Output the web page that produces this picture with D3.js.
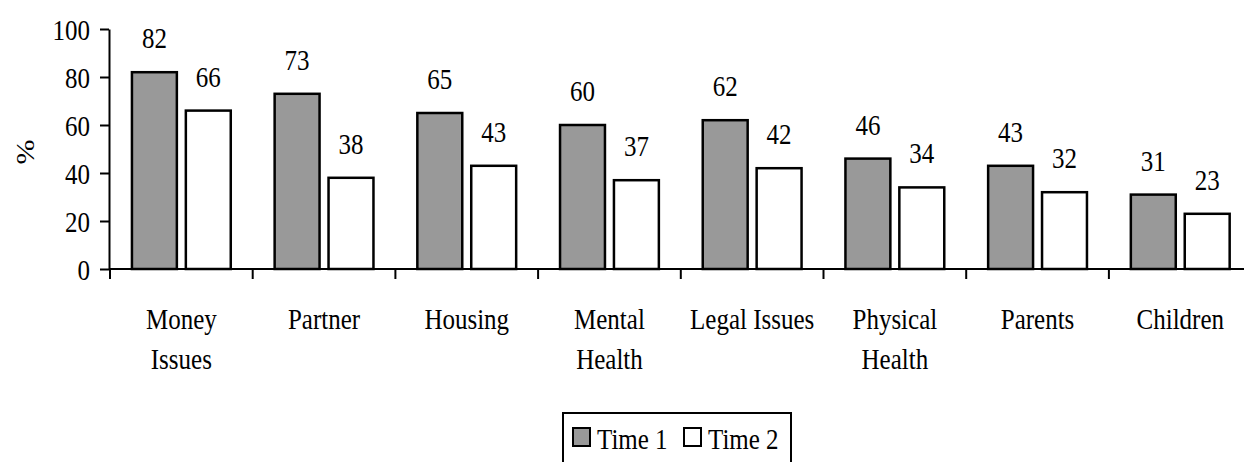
<!DOCTYPE html>
<html>
<head>
<meta charset="utf-8">
<script src="https://cdn.jsdelivr.net/npm/d3@7/dist/d3.min.js"></script>
</head>
<body style="margin:0;background:#fff">
<svg id="chart" width="1244" height="462" style="display:block"></svg>
<script>
// Share of respondents reporting each problem area, at two time points
const categories = ["Money Issues", "Partner", "Housing", "Mental Health", "Legal Issues", "Physical Health", "Parents", "Children"];
const categoryLines = [["Money", "Issues"], ["Partner"], ["Housing"], ["Mental", "Health"], ["Legal Issues"], ["Physical", "Health"], ["Parents"], ["Children"]];
const seriesNames = ["Time 1", "Time 2"];
const time1 = [82, 73, 65, 60, 62, 46, 43, 31];
const time2 = [66, 38, 43, 37, 42, 34, 32, 23];
const yTicks = [0, 20, 40, 60, 80, 100];
const seriesFill = ["#999999", "#ffffff"];

const FONT = '"Liberation Serif", "Times New Roman", Times, serif';
const FS = 25;          // font size
const SY = 1.2;         // vertical stretch of the serif type

const svg = d3.select("#chart");

const y = d3.scaleLinear().domain([0, 100]).range([269, 29]);
const x0 = d3.scaleBand().domain(categories).range([110, 110 + 8 * 142.7]).paddingInner(0).paddingOuter(0);
const x1 = d3.scaleBand().domain(seriesNames).range([0, x0.bandwidth()]).paddingInner(1 / 6).paddingOuter(0.407);

const rows = categories.map((c, i) => ({ cat: c, lines: categoryLines[i], vals: [time1[i], time2[i]] }));

// bars
const groups = svg.append("g").selectAll("g").data(rows).join("g")
  .attr("transform", d => `translate(${x0(d.cat)},0)`);

groups.selectAll("rect").data(d => d.vals.map((v, k) => ({ v, s: seriesNames[k], k }))).join("rect")
  .attr("x", d => x1(d.s))
  .attr("y", d => y(d.v))
  .attr("width", x1.bandwidth())
  .attr("height", d => y(0) - y(d.v))
  .attr("fill", d => seriesFill[d.k])
  .attr("stroke", "#000")
  .attr("stroke-width", 2.5);

// value labels
groups.selectAll("text.val").data(d => d.vals.map((v, k) => ({ v, s: seriesNames[k] }))).join("text")
  .attr("class", "val")
  .attr("text-anchor", "middle")
  .style("font-family", FONT).style("font-size", FS + "px")
  .attr("transform", d => `translate(${x1(d.s) + x1.bandwidth() / 2},${y(d.v) - 24}) scale(1,${SY})`)
  .text(d => d.v);

// y axis
const yAxis = svg.append("g").attr("transform", "translate(109,0)")
  .call(d3.axisLeft(y).tickValues(yTicks).tickSize(9).tickPadding(10).tickSizeOuter(0));
yAxis.select(".domain").attr("stroke-width", 2);
yAxis.selectAll(".tick line").attr("stroke-width", 2);
yAxis.selectAll(".tick text")
  .style("font-family", FONT).style("font-size", FS + "px")
  .attr("dy", "0.34em")
  .attr("transform", `scale(1,${SY})`);

// x axis with ticks between categories
const xAxisG = svg.append("g").attr("transform", "translate(0,269)");
xAxisG.append("line").attr("x1", 109).attr("x2", 1244).attr("y1", 0).attr("y2", 0)
  .attr("stroke", "#000").attr("stroke-width", 2);
const boundaries = categories.map(c => x0(c));
xAxisG.selectAll("line.tk").data(boundaries).join("line")
  .attr("class", "tk")
  .attr("x1", d => d).attr("x2", d => d).attr("y1", 0).attr("y2", 10)
  .attr("stroke", "#000").attr("stroke-width", 2);

// category labels
const catLabels = svg.append("g").selectAll("text").data(rows).join("text")
  .style("font-family", FONT).style("font-size", FS + "px")
  .attr("text-anchor", "middle")
  .attr("transform", d => `translate(${x0(d.cat) + x0.bandwidth() / 2},329) scale(1,${SY})`);
catLabels.selectAll("tspan").data(d => d.lines).join("tspan")
  .attr("x", 0)
  .attr("y", (d, i) => i * 33)
  .text(d => d);

// y axis title
svg.append("text")
  .style("font-family", FONT).style("font-size", FS + "px")
  .attr("text-anchor", "middle")
  .attr("transform", `translate(34,152) rotate(-90) scale(${SY},1)`)
  .text("%");

// legend
const lg = svg.append("g").attr("transform", "translate(563,413)");
lg.append("rect").attr("x", 0).attr("y", 0).attr("width", 228).attr("height", 70)
  .attr("fill", "#fff").attr("stroke", "#000").attr("stroke-width", 2);
const legendX = [10, 121];
const items = lg.selectAll("g.item").data(seriesNames).join("g")
  .attr("class", "item")
  .attr("transform", (d, i) => `translate(${legendX[i]},0)`);
items.append("rect")
  .attr("x", 0).attr("y", 15).attr("width", 17).attr("height", 18)
  .attr("fill", (d, i) => seriesFill[i]).attr("stroke", "#000").attr("stroke-width", 2);
items.append("text")
  .style("font-family", FONT).style("font-size", FS + "px")
  .attr("transform", `translate(24,36) scale(1,${SY})`)
  .text(d => d);
</script>
</body>
</html>
